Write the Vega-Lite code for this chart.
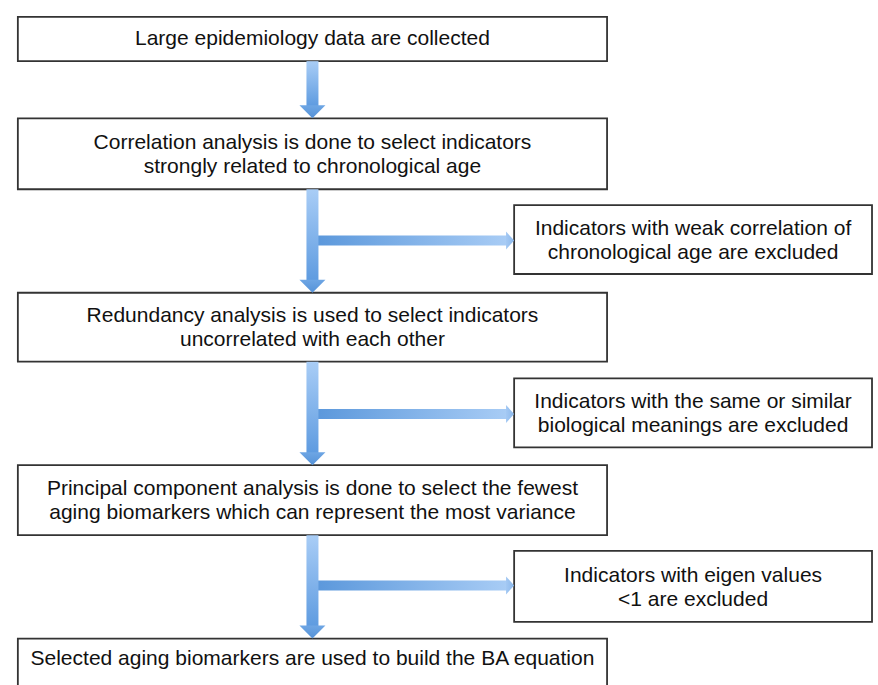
{
  "$schema": "https://vega.github.io/schema/vega-lite/v6.json",
  "width": 878,
  "height": 685,
  "padding": 0,
  "autosize": {"type": "none"},
  "background": "white",
  "config": {"view": {"stroke": null}},
  "datasets": {
    "boxes": [
      {"kind": "main", "x1": 13, "x2": 609, "y1": 12, "y2": 57, "cx": 311, "cy": 34.5, "label": "Large epidemiology data are collected"},
      {"kind": "main", "x1": 13, "x2": 609, "y1": 115, "y2": 187, "cx": 311, "cy": 140, "label": "Correlation analysis is done to select indicators\nstrongly related to chronological age"},
      {"kind": "side", "x1": 515, "x2": 877, "y1": 203, "y2": 273, "cx": 696, "cy": 227, "label": "Indicators with weak correlation of\nchronological age are excluded"},
      {"kind": "main", "x1": 13, "x2": 609, "y1": 292, "y2": 362, "cx": 311, "cy": 316, "label": "Redundancy analysis is used to select indicators\nuncorrelated with each other"},
      {"kind": "side", "x1": 515, "x2": 877, "y1": 379, "y2": 449, "cx": 696, "cy": 403, "label": "Indicators with the same or similar\nbiological meanings are excluded"},
      {"kind": "main", "x1": 13, "x2": 609, "y1": 467, "y2": 538, "cx": 311, "cy": 491.5, "label": "Principal component analysis is done to select the fewest\naging biomarkers which can represent the most variance"},
      {"kind": "side", "x1": 515, "x2": 877, "y1": 554, "y2": 626, "cx": 696, "cy": 579, "label": "Indicators with eigen values\n<1 are excluded"},
      {"kind": "main", "x1": 13, "x2": 609, "y1": 643, "y2": 720, "cx": 311, "cy": 664, "label": "Selected aging biomarkers are used to build the BA equation"}
    ],
    "down": [
      {"x": 311, "yFrom": 57, "yTo": 115},
      {"x": 311, "yFrom": 187, "yTo": 292},
      {"x": 311, "yFrom": 362, "yTo": 467},
      {"x": 311, "yFrom": 538, "yTo": 643}
    ],
    "side": [
      {"y": 239, "xFrom": 311, "xTo": 515},
      {"y": 415, "xFrom": 311, "xTo": 515},
      {"y": 589, "xFrom": 311, "xTo": 515}
    ]
  },
  "layer": [
    {
      "data": {"name": "boxes"},
      "mark": {"type": "rect", "fill": "white", "stroke": "#333333", "strokeWidth": 1.8, "clip": true},
      "encoding": {
        "x": {"field": "x1", "type": "quantitative", "scale": {"domain": [0, 878], "nice": false, "zero": false}, "axis": null},
        "x2": {"field": "x2"},
        "y": {"field": "y1", "type": "quantitative", "scale": {"domain": [0, 685], "nice": false, "zero": false, "reverse": true}, "axis": null},
        "y2": {"field": "y2"}
      }
    },
    {
      "data": {"name": "side"},
      "mark": {
        "type": "bar", "orient": "horizontal", "height": 10, "x2Offset": -7,
        "fill": {"gradient": "linear", "x1": 0, "y1": 0, "x2": 1, "y2": 0,
          "stops": [{"offset": 0, "color": "#5a97db"}, {"offset": 1, "color": "#a8ccf5"}]}
      },
      "encoding": {
        "y": {"field": "y", "type": "quantitative"},
        "x": {"field": "xFrom", "type": "quantitative"},
        "x2": {"field": "xTo"}
      }
    },
    {
      "data": {"name": "side"},
      "mark": {
        "type": "point", "filled": true, "opacity": 1, "size": 324,
        "shape": "M-0.9,-1L0,0L-0.9,1Z",
        "fill": {"gradient": "linear", "x1": 0, "y1": 0, "x2": 1, "y2": 0,
          "stops": [{"offset": 0, "color": "#a3c8f3"}, {"offset": 1, "color": "#8bb8ec"}]}
      },
      "encoding": {
        "y": {"field": "y", "type": "quantitative"},
        "x": {"field": "xTo", "type": "quantitative"}
      }
    },
    {
      "data": {"name": "down"},
      "mark": {
        "type": "bar", "orient": "vertical", "width": 12, "y2Offset": -12,
        "fill": {"gradient": "linear", "x1": 0, "y1": 0, "x2": 0, "y2": 1,
          "stops": [{"offset": 0, "color": "#a9cdf6"}, {"offset": 1, "color": "#5e9be0"}]}
      },
      "encoding": {
        "x": {"field": "x", "type": "quantitative"},
        "y": {"field": "yFrom", "type": "quantitative"},
        "y2": {"field": "yTo"}
      }
    },
    {
      "data": {"name": "down"},
      "mark": {
        "type": "point", "filled": true, "opacity": 1, "size": 676,
        "shape": "M-1,-1L1,-1L0,0Z",
        "fill": {"gradient": "linear", "x1": 0, "y1": 0, "x2": 0, "y2": 1,
          "stops": [{"offset": 0, "color": "#6ea6e4"}, {"offset": 1, "color": "#5592d8"}]}
      },
      "encoding": {
        "x": {"field": "x", "type": "quantitative"},
        "y": {"field": "yTo", "type": "quantitative"}
      }
    },
    {
      "data": {"name": "boxes"},
      "mark": {"type": "text", "font": "Liberation Sans", "fontSize": 21, "color": "#111111", "align": "center", "baseline": "middle", "lineBreak": "\n", "lineHeight": 24},
      "encoding": {
        "x": {"field": "cx", "type": "quantitative"},
        "y": {"field": "cy", "type": "quantitative"},
        "text": {"field": "label"}
      }
    }
  ]
}
